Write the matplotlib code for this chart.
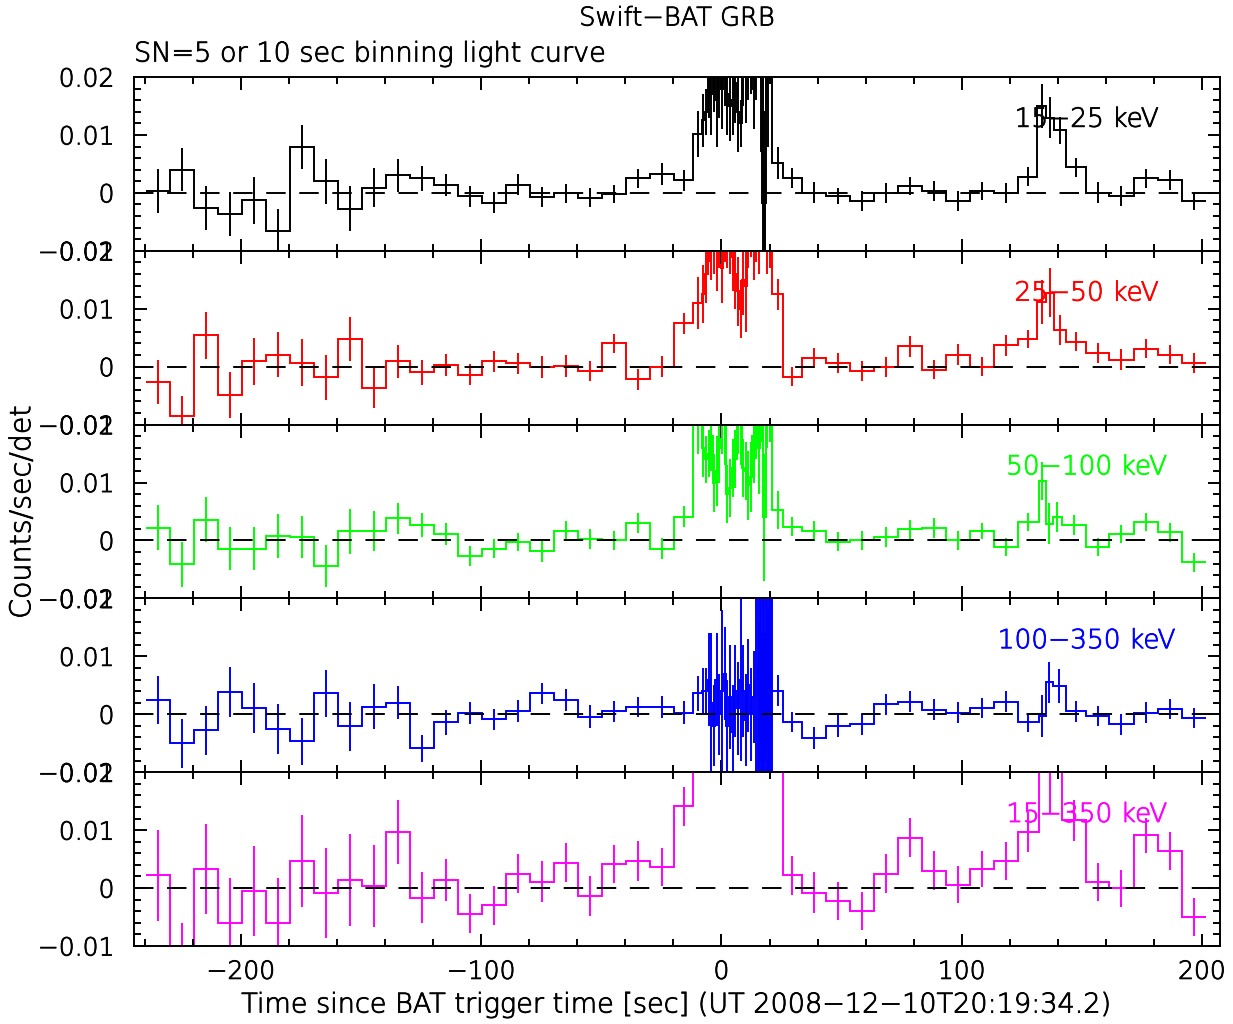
import numpy as np
import matplotlib
matplotlib.use("Agg")
import matplotlib.pyplot as plt
import matplotlib.patheffects as pe
from matplotlib.ticker import MultipleLocator

# ---------------- data ----------------
# 10-s bins before the burst (common to all bands)
pre_edges = [-239.7, -229.7, -219.7, -209.7, -199.7, -189.7, -179.7, -169.7, -159.7,
             -149.7, -139.7, -129.7, -119.7, -109.7, -99.7, -89.7, -79.7, -69.7,
             -59.7, -49.7, -39.7, -29.7, -19.7, -11.8]
# fine (SN=5) bins during the burst
burst_edges = [-11.8, -8.1, -6.9, -5.8, -4.7, -3.6, -2.5, -1.4, -0.3, 0.8, 1.9, 3.0,
               4.1, 5.2, 6.3, 7.4, 8.5, 9.6, 10.7, 11.8, 12.9, 14.0, 15.1, 16.2,
               17.3, 18.4, 19.5, 21.2]
burst_edges_15_25 = [-11.8, -8.1, -6.9, -5.8, -4.7, -3.6, -2.5, -1.4, -0.3, 0.8, 1.9, 3.0,
                     4.1, 5.2, 6.3, 7.4, 8.5, 9.6, 10.7, 11.8, 12.9, 14.0, 15.1, 16.2,
                     16.6, 17.0, 17.4, 17.8, 18.2, 18.6, 19.0, 19.5, 21.2]
burst_edges_100_350 = [-11.8, -8.1, -6.9, -5.8, -4.7, -3.6, -2.5, -1.4, -0.3, 0.8, 1.9,
                       3.0, 4.1, 5.2, 6.3, 7.4, 8.5, 9.6, 10.7, 11.8, 12.9, 14.0, 15.1,
                       15.5, 15.9, 16.3, 16.7, 17.1, 17.5, 17.9, 18.3, 18.7, 19.1, 19.5,
                       19.9, 20.3, 20.7, 21.2]
burst_edges_15_350 = [-11.8, 0.0, 10.0, 21.2, 25.6]
# bins after the burst
post_edges_a = [21.2, 25.6, 33.5, 43.5, 53.5, 63.5, 73.4, 83.5, 93.5, 103.5, 113.5, 123.5]
post_edges_15_350 = [25.6, 33.5, 43.5, 53.5, 63.5, 73.4, 83.5, 93.5, 103.5, 113.5, 123.5]
post_edges_b = [151.7, 161.5, 171.5, 181.6, 191.6, 201.7]
peak_edges_15_25 = [123.5, 131.5, 135.0, 138.5, 143.3, 151.7]
peak_edges_25_50 = [123.5, 131.5, 135.0, 138.5, 143.3, 151.7]
peak_edges_50_100 = [123.5, 132.0, 135.0, 138.0, 141.7, 151.7]
peak_edges_100_350 = [123.5, 132.0, 135.0, 138.0, 143.3, 151.7]
peak_edges_15_350 = [123.5, 132.0, 141.7, 151.7]

bands = ["15\u221225 keV", "25\u221250 keV", "50\u2212100 keV", "100\u2212350 keV", "15\u2212350 keV"]
colors = ["#000000", "#ff0000", "#00ff00", "#0000ff", "#ff00ff"]

# ---- 15-25 keV ----
pre_15_25 = [0.0003, 0.0040, -0.0026, -0.0036, -0.0013, -0.0066, 0.0080, 0.0020, -0.0027,
             0.0009, 0.0030, 0.0025, 0.0014, -0.0006, -0.0017, 0.0014, -0.0007, -0.0001,
             -0.0008, -0.0002, 0.0025, 0.0033, 0.0022]
pre_err_15_25 = [0.0038, 0.0037, 0.0038, 0.0038, 0.0040, 0.0038, 0.0038, 0.0039, 0.0039,
                 0.0034, 0.0029, 0.0022, 0.0019, 0.0018, 0.0018, 0.0018, 0.0017, 0.0017,
                 0.0017, 0.0016, 0.0017, 0.0019, 0.0018]
burst_15_25 = [0.0102, 0.0125, 0.0140, 0.0200, 0.0170, 0.0220, 0.0160, 0.0210, 0.0180,
               0.0220, 0.0170, 0.0150, 0.0160, 0.0190, 0.0140, 0.0120, 0.0220, 0.0200,
               0.0240, 0.0250, 0.0180, 0.0240, 0.0300, 0.0220, 0.0180, 0.0200, -0.0120,
               -0.0080, 0.0140, 0.0240, 0.0200, 0.0300]
burst_err_15_25 = [0.0040, 0.0045, 0.0040, 0.0070, 0.0070, 0.0080, 0.0080, 0.0080, 0.0070,
                   0.0070, 0.0070, 0.0060, 0.0060, 0.0070, 0.0070, 0.0040, 0.0070, 0.0080,
                   0.0080, 0.0080, 0.0070, 0.0080, 0.0100, 0.0150, 0.0200, 0.0200, 0.0120,
                   0.0120, 0.0160, 0.0100, 0.0120, 0.0080]
post_15_25 = [0.0052, 0.0026, 0.0000, -0.0005, -0.0014, 0.0000, 0.0012, 0.0003, -0.0014,
              0.0003, 0.0000]
post_err_15_25 = [0.0028, 0.0017, 0.0018, 0.0014, 0.0017, 0.0017, 0.0016, 0.0017, 0.0017,
                  0.0016, 0.0017]
peak_15_25 = [0.0028, 0.0150, 0.0130, 0.0108, 0.0044]
peak_err_15_25 = [0.0017, 0.0038, 0.0036, 0.0023, 0.0017]
tail_15_25 = [0.0000, -0.0005, 0.0025, 0.0022, -0.0014]
tail_err_15_25 = [0.0018, 0.0017, 0.0017, 0.0017, 0.0016]

# ---- 25-50 keV ----
pre_25_50 = [-0.0026, -0.0086, 0.0054, -0.0049, 0.0009, 0.0021, 0.0007, -0.0018, 0.0048,
             -0.0036, 0.0009, -0.0010, 0.0003, -0.0014, 0.0009, 0.0006, 0.0000, 0.0002,
             -0.0008, 0.0040, -0.0022, 0.0000, 0.0075]
pre_err_25_50 = [0.0038, 0.0035, 0.0040, 0.0039, 0.0040, 0.0039, 0.0040, 0.0039, 0.0038,
                 0.0036, 0.0029, 0.0022, 0.0019, 0.0018, 0.0018, 0.0018, 0.0019, 0.0019,
                 0.0017, 0.0017, 0.0018, 0.0018, 0.0018]
burst_25_50 = [0.0110, 0.0125, 0.0160, 0.0250, 0.0220, 0.0240, 0.0200, 0.0250, 0.0170,
               0.0260, 0.0250, 0.0230, 0.0190, 0.0160, 0.0130, 0.0100, 0.0150, 0.0140,
               0.0240, 0.0270, 0.0220, 0.0260, 0.0230, 0.0280, 0.0300, 0.0220, 0.0250]
burst_err_25_50 = [0.0045, 0.0050, 0.0050, 0.0070, 0.0070, 0.0080, 0.0070, 0.0080, 0.0060,
                   0.0080, 0.0080, 0.0070, 0.0060, 0.0060, 0.0060, 0.0050, 0.0060, 0.0080,
                   0.0070, 0.0080, 0.0070, 0.0080, 0.0070, 0.0080, 0.0080, 0.0060, 0.0080]
post_25_50 = [0.0125, -0.0017, 0.0015, 0.0006, -0.0008, 0.0000, 0.0035, -0.0005, 0.0021,
              0.0000, 0.0037]
post_err_25_50 = [0.0027, 0.0017, 0.0018, 0.0017, 0.0017, 0.0017, 0.0018, 0.0016, 0.0018,
                  0.0016, 0.0018]
peak_25_50 = [0.0048, 0.0111, 0.0128, 0.0064, 0.0043]
peak_err_25_50 = [0.0016, 0.0038, 0.0043, 0.0026, 0.0016]
tail_25_50 = [0.0024, 0.0012, 0.0031, 0.0021, 0.0006]
tail_err_25_50 = [0.0017, 0.0018, 0.0016, 0.0017, 0.0017]

# ---- 50-100 keV ----
pre_50_100 = [0.0022, -0.0041, 0.0036, -0.0014, -0.0014, 0.0008, 0.0006, -0.0044, 0.0016,
              0.0016, 0.0038, 0.0027, 0.0011, -0.0027, -0.0014, -0.0003, -0.0019, 0.0016,
              0.0002, 0.0000, 0.0030, -0.0014, 0.0041]
pre_err_50_100 = [0.0039, 0.0039, 0.0039, 0.0037, 0.0037, 0.0038, 0.0037, 0.0037, 0.0039,
                  0.0035, 0.0027, 0.0021, 0.0019, 0.0017, 0.0017, 0.0016, 0.0018, 0.0017,
                  0.0017, 0.0016, 0.0017, 0.0018, 0.0018]
burst_50_100 = [0.0220, 0.0160, 0.0140, 0.0150, 0.0180, 0.0100, 0.0120, 0.0160, 0.0220,
                0.0200, 0.0080, 0.0090, 0.0125, 0.0140, 0.0220, 0.0200, 0.0125, 0.0120,
                0.0095, 0.0110, 0.0180, 0.0220, 0.0160, 0.0250, 0.0040, 0.0240, 0.0250]
burst_err_50_100 = [0.0070, 0.0050, 0.0040, 0.0040, 0.0060, 0.0050, 0.0060, 0.0060, 0.0070,
                    0.0070, 0.0050, 0.0050, 0.0050, 0.0050, 0.0070, 0.0070, 0.0050, 0.0050,
                    0.0060, 0.0060, 0.0080, 0.0080, 0.0080, 0.0080, 0.0110, 0.0080, 0.0080]
post_50_100 = [0.0053, 0.0024, 0.0016, -0.0002, 0.0000, 0.0006, 0.0019, 0.0022, 0.0000,
               0.0016, -0.0011]
post_err_50_100 = [0.0033, 0.0017, 0.0017, 0.0017, 0.0017, 0.0017, 0.0017, 0.0017, 0.0017,
                   0.0014, 0.0016]
peak_50_100 = [0.0032, 0.0103, 0.0029, 0.0041, 0.0027]
peak_err_50_100 = [0.0016, 0.0033, 0.0035, 0.0026, 0.0017]
tail_50_100 = [-0.0011, 0.0011, 0.0032, 0.0014, -0.0038]
tail_err_50_100 = [0.0016, 0.0016, 0.0015, 0.0016, 0.0016]

# ---- 100-350 keV ----
pre_100_350 = [0.0025, -0.0050, -0.0028, 0.0039, 0.0011, -0.0025, -0.0047, 0.0036, -0.0021,
               0.0013, 0.0020, -0.0059, -0.0014, 0.0003, -0.0009, 0.0005, 0.0036, 0.0025,
               -0.0004, 0.0005, 0.0013, 0.0013, 0.0003]
pre_err_100_350 = [0.0041, 0.0042, 0.0043, 0.0043, 0.0043, 0.0043, 0.0041, 0.0041, 0.0042,
                   0.0039, 0.0029, 0.0023, 0.0021, 0.0019, 0.0018, 0.0019, 0.0018, 0.0019,
                   0.0020, 0.0018, 0.0017, 0.0019, 0.0020]
burst_100_350 = [0.0036, 0.0040, 0.0040, 0.0060, 0.0020, -0.0020, 0.0060, 0.0000, 0.0040,
                 0.0070, -0.0020, 0.0030, -0.0030, 0.0040, 0.0010, 0.0060, 0.0040, -0.0010,
                 0.0050, 0.0000, 0.0030, 0.0060, 0.0080, -0.0040, 0.0120, 0.0000, -0.0060,
                 0.0100, 0.0020, -0.0080, 0.0140, 0.0040, -0.0020, 0.0100, 0.0000, 0.0060,
                 0.0040]
burst_err_100_350 = [0.0030, 0.0040, 0.0040, 0.0080, 0.0120, 0.0070, 0.0080, 0.0070, 0.0140,
                     0.0080, 0.0080, 0.0090, 0.0080, 0.0080, 0.0080, 0.0140, 0.0080, 0.0080,
                     0.0080, 0.0080, 0.0080, 0.0160, 0.0200, 0.0200, 0.0200, 0.0200, 0.0200,
                     0.0200, 0.0200, 0.0200, 0.0200, 0.0200, 0.0200, 0.0200, 0.0200, 0.0200,
                     0.0200]
post_100_350 = [0.0041, -0.0013, -0.0041, -0.0020, -0.0017, 0.0017, 0.0022, 0.0008, 0.0003,
                0.0011, 0.0022]
post_err_100_350 = [0.0026, 0.0017, 0.0019, 0.0019, 0.0018, 0.0018, 0.0018, 0.0018, 0.0018,
                    0.0017, 0.0018]
peak_100_350 = [-0.0014, -0.0003, 0.0055, 0.0049, 0.0005]
peak_err_100_350 = [0.0017, 0.0037, 0.0035, 0.0029, 0.0018]
tail_100_350 = [-0.0003, -0.0017, 0.0003, 0.0009, -0.0006]
tail_err_100_350 = [0.0018, 0.0018, 0.0018, 0.0017, 0.0017]

# ---- 15-350 keV ----
pre_15_350 = [0.0022, -0.0138, 0.0033, -0.0060, -0.0005, -0.0060, 0.0047, -0.0008, 0.0014,
              0.0004, 0.0097, -0.0017, 0.0014, -0.0044, -0.0030, 0.0025, 0.0011, 0.0044,
              -0.0014, 0.0042, 0.0047, 0.0036, 0.0141]
pre_err_15_350 = [0.0078, 0.0078, 0.0078, 0.0078, 0.0078, 0.0078, 0.0079, 0.0078, 0.0080,
                  0.0071, 0.0055, 0.0044, 0.0037, 0.0034, 0.0034, 0.0034, 0.0035, 0.0034,
                  0.0035, 0.0033, 0.0034, 0.0033, 0.0034]
burst_15_350 = [0.040, 0.060, 0.050, 0.040]
burst_err_15_350 = [0.008, 0.008, 0.008, 0.008]
post_15_350 = [0.0022, -0.0008, -0.0022, -0.0039, 0.0025, 0.0087, 0.0030, 0.0006, 0.0033,
               0.0047]
post_err_15_350 = [0.0034, 0.0035, 0.0033, 0.0033, 0.0033, 0.0034, 0.0034, 0.0032, 0.0031,
                   0.0033]
peak_15_350 = [0.0097, 0.0250, 0.0117]
peak_err_15_350 = [0.0034, 0.0120, 0.0035]
tail_15_350 = [0.0011, 0.0000, 0.0091, 0.0064, -0.0050]
tail_err_15_350 = [0.0033, 0.0032, 0.0030, 0.0032, 0.0032]

panels = [
    (pre_15_25, pre_err_15_25, burst_edges_15_25, burst_15_25, burst_err_15_25, post_edges_a,
     post_15_25, post_err_15_25, peak_edges_15_25, peak_15_25, peak_err_15_25,
     tail_15_25, tail_err_15_25),
    (pre_25_50, pre_err_25_50, burst_edges, burst_25_50, burst_err_25_50, post_edges_a,
     post_25_50, post_err_25_50, peak_edges_25_50, peak_25_50, peak_err_25_50,
     tail_25_50, tail_err_25_50),
    (pre_50_100, pre_err_50_100, burst_edges, burst_50_100, burst_err_50_100, post_edges_a,
     post_50_100, post_err_50_100, peak_edges_50_100, peak_50_100, peak_err_50_100,
     tail_50_100, tail_err_50_100),
    (pre_100_350, pre_err_100_350, burst_edges_100_350, burst_100_350, burst_err_100_350,
     post_edges_a, post_100_350, post_err_100_350, peak_edges_100_350, peak_100_350,
     peak_err_100_350, tail_100_350, tail_err_100_350),
    (pre_15_350, pre_err_15_350, burst_edges_15_350, burst_15_350, burst_err_15_350,
     post_edges_15_350, post_15_350, post_err_15_350, peak_edges_15_350, peak_15_350,
     peak_err_15_350, tail_15_350, tail_err_15_350),
]

xticks = [-200, -100, 0, 100, 200]
xtick_labels = ["\u2212200", "\u2212100", "0", "100", "200"]
yticks = [-0.01, 0, 0.01, 0.02]
ytick_labels = ["\u22120.01", "0", "0.01", "0.02"]

# ---------------- figure ----------------
plt.rcParams['font.family'] = ['DejaVu Sans']
plt.rcParams['font.weight'] = 'light'
FS = 18
fig = plt.figure(figsize=(12.33, 10.24), dpi=100)
L, R = 134 / 1233, 1220 / 1233
top_px, bot_px = 77, 946
ph = (bot_px - top_px) / 5


def thicken(t, col):
    t.set_path_effects([pe.withStroke(linewidth=0.6, foreground=col)])


LW = 1.4
for i, p in enumerate(panels):
    (pre, pre_e, b_edges, b_vals, b_err, a_edges, a_vals, a_err,
     k_edges, k_vals, k_err, t_vals, t_err) = p
    y0 = 1 - (top_px + (i + 1) * ph) / 1024
    ax = fig.add_axes([L, y0, R - L, ph / 1024])
    col = colors[i]
    segs = [
        (pre_edges, pre, pre_e),
        (b_edges, b_vals, b_err),
        (a_edges, a_vals, a_err),
        (k_edges, k_vals, k_err),
        (post_edges_b, t_vals, t_err),
    ]
    all_edges = []
    all_vals = []
    for e, v, er in segs:
        if all_edges:
            all_edges.extend(e[1:])
        else:
            all_edges.extend(e)
        all_vals.extend(v)
        e = np.asarray(e)
        c = 0.5 * (e[:-1] + e[1:])
        ax.errorbar(c, v, yerr=er, fmt='none', ecolor=col, elinewidth=LW, capsize=0)
    ax.stairs(all_vals, all_edges, baseline=None, color=col, lw=LW)
    ax.axhline(0, color='black', lw=LW, ls=(0, (10, 7)))
    ax.set_xlim(-244.5, 207.5)
    ax.set_ylim(-0.01, 0.02)
    ax.xaxis.set_major_locator(MultipleLocator(100))
    ax.xaxis.set_minor_locator(MultipleLocator(20))
    ax.set_yticks(yticks)
    ax.set_yticklabels(ytick_labels)
    ax.yaxis.set_minor_locator(MultipleLocator(0.002))
    ax.tick_params(which='both', direction='in', top=True, right=True, width=LW,
                   labelsize=FS)
    ax.tick_params(which='major', length=9)
    ax.tick_params(which='minor', length=5)
    ax.tick_params(axis='y', pad=14)
    ax.tick_params(axis='x', pad=10)
    for s in ax.spines.values():
        s.set_linewidth(LW)
    if i < 4:
        ax.tick_params(labelbottom=False)
    else:
        ax.set_xticks(xticks)
        ax.set_xticklabels(xtick_labels)
    for t in ax.get_xticklabels() + ax.get_yticklabels():
        thicken(t, 'black')
    lab = ax.text(152, 0.0127, bands[i], color=col, fontsize=19, ha='center', va='center')
    thicken(lab, col)

texts = [
    fig.text(0.549, 1 - 18 / 1024, "Swift\u2212BAT GRB", ha='center', va='center',
             fontsize=18.5),
    fig.text(L, 1 - 54 / 1024, "SN=5 or 10 sec binning light curve", ha='left',
             va='center', fontsize=19.5),
    fig.text(0.018, 0.5, "Counts/sec/det", rotation=90, ha='center', va='center',
             fontsize=20.5),
    fig.text(0.549, 1 - 1005 / 1024,
             "Time since BAT trigger time [sec] (UT 2008\u221212\u221210T20:19:34.2)",
             ha='center', va='center', fontsize=19.5),
]
for t in texts:
    thicken(t, 'black')

fig.savefig("out.png", dpi=100)
